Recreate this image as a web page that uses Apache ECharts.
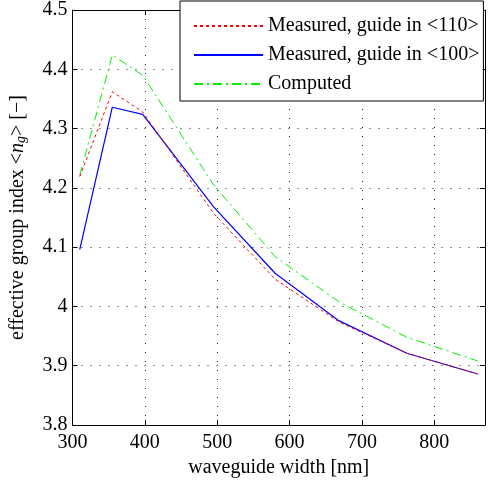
<!DOCTYPE html>
<html>
<head>
<meta charset="utf-8">
<script src="https://cdn.jsdelivr.net/npm/echarts@6/dist/echarts.min.js"></script>
<style>
  html, body { margin: 0; padding: 0; background: #fff; }
  #chart { width: 489px; height: 483px; }
</style>
</head>
<body>
<div id="chart"></div>
<script>
// waveguide width [nm]
var widths = [310, 355, 397, 495, 580, 668, 762, 860];
// effective group index
var measured110 = [4.219, 4.362, 4.328, 4.157, 4.046, 3.974, 3.921, 3.886];
var measured100 = [4.096, 4.336, 4.324, 4.168, 4.056, 3.976, 3.921, 3.886];
var computed = [4.221, 4.424, 4.390, 4.205, 4.084, 4.008, 3.948, 3.908];
var seriesNames = ["Measured, guide in <110>", "Measured, guide in <100>", "Computed"];

function pairs(ys) {
    return widths.map(function (x, i) { return [x, ys[i]]; });
}

var font = "Liberation Serif";
var gridDots = { show: true, lineStyle: { color: "#222", type: [1, 8], width: 1 } };
var ticksIn = { show: true, inside: true, length: 5, lineStyle: { color: "#000" } };
var frame = { show: true, onZero: false, lineStyle: { color: "#000", width: 1 } };

var myChart = echarts.init(document.getElementById("chart"));
myChart.setOption({
    animation: false,
    textStyle: { fontFamily: font },
    grid: { left: 71, right: 4, top: 10, bottom: 58 },
    legend: {
        orient: "vertical",
        left: 180,
        top: 1,
        padding: [15, 4, 7, 13],
        itemGap: 9,
        itemWidth: 69,
        itemHeight: 12,
        backgroundColor: "#fff",
        borderColor: "#000",
        borderWidth: 1,
        itemStyle: { opacity: 0 },
        textStyle: { fontFamily: font, fontSize: 20, color: "#000" },
        data: seriesNames
    },
    xAxis: [{
        type: "value",
        min: 300,
        max: 870,
        interval: 100,
        name: "waveguide width [nm]",
        nameLocation: "middle",
        nameGap: 32,
        nameTextStyle: { fontFamily: font, fontSize: 20, color: "#000" },
        axisLine: frame,
        axisTick: ticksIn,
        axisLabel: { color: "#000", fontSize: 20, fontFamily: font, margin: 8, showMaxLabel: false },
        splitLine: gridDots
    }, {
        type: "value",
        position: "top",
        min: 300,
        max: 870,
        interval: 100,
        axisLine: frame,
        axisTick: ticksIn,
        axisLabel: { show: false },
        splitLine: { show: false }
    }],
    yAxis: [{
        type: "value",
        min: 3.8,
        max: 4.5,
        interval: 0.1,
        name: "{a|effective group index <}{i|n}{s|g}{a|> [\u2212]}",
        nameLocation: "middle",
        nameGap: 44,
        nameTextStyle: {
            fontFamily: font, fontSize: 20, color: "#000",
            rich: {
                a: { fontFamily: font, fontSize: 20, color: "#000" },
                i: { fontFamily: font, fontSize: 20, color: "#000", fontStyle: "italic" },
                s: { fontFamily: font, fontSize: 14, color: "#000", fontStyle: "italic", padding: [7, 0, 0, 0] }
            }
        },
        axisLine: frame,
        axisTick: ticksIn,
        axisLabel: {
            color: "#000", fontSize: 20, fontFamily: font, margin: 5,
            formatter: function (v) { return String(Math.round(v * 10) / 10); }
        },
        splitLine: gridDots
    }, {
        type: "value",
        position: "right",
        min: 3.8,
        max: 4.5,
        interval: 0.1,
        axisLine: frame,
        axisTick: ticksIn,
        axisLabel: { show: false },
        splitLine: { show: false }
    }],
    series: [{
        name: seriesNames[0],
        type: "line",
        symbol: "none",
        data: pairs(measured110),
        itemStyle: { color: "#ff0000" },
        lineStyle: { color: "#ff0000", width: 1, type: [3, 3] },
        z: 3
    }, {
        name: seriesNames[1],
        type: "line",
        symbol: "none",
        data: pairs(measured100),
        itemStyle: { color: "#0000ff" },
        lineStyle: { color: "#0000ff", width: 1.2, type: "solid" },
        z: 2
    }, {
        name: seriesNames[2],
        type: "line",
        symbol: "none",
        data: pairs(computed),
        itemStyle: { color: "#00f000" },
        lineStyle: { color: "#00f000", width: 1, type: [9, 4, 2, 4] },
        z: 2
    }]
});
</script>
</body>
</html>
